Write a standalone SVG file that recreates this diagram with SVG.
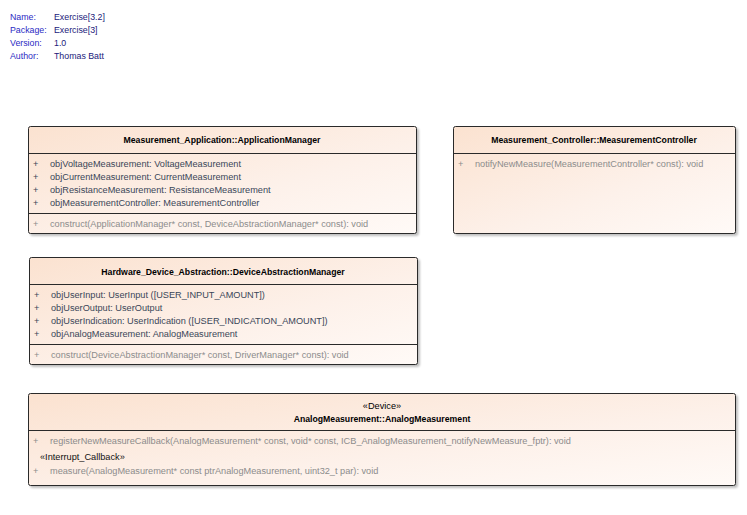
<svg xmlns="http://www.w3.org/2000/svg" width="747" height="515" viewBox="0 0 747 515">
<defs>
<linearGradient id="g" x1="0" y1="0" x2="1" y2="1">
<stop offset="0" stop-color="#fbe2d0"/>
<stop offset="0.6" stop-color="#fdf1ea"/>
<stop offset="1" stop-color="#fffaf7"/>
</linearGradient>
<filter id="sh" x="-5%" y="-5%" width="110%" height="120%">
<feDropShadow dx="2" dy="2" stdDeviation="1.2" flood-color="#000" flood-opacity="0.25"/>
</filter>
</defs>
<style>
text{font-family:"Liberation Sans",Arial,sans-serif;font-size:9.2px}
.meta,.val{font-size:8.8px}
.meta{fill:#2b2bc4}
.val{fill:#1a1a7a}
.box{fill:url(#g);stroke:#2a2a2a;stroke-width:1}
.ln{stroke:#2a2a2a;stroke-width:1}
.hd{font-weight:bold;fill:#000;text-anchor:middle;font-size:8.7px}
.st{fill:#000;text-anchor:middle}
.at{fill:#3a4658}
.op{fill:#8c8c8c}
.stl{fill:#111}
</style>
<g id="meta">
<text class="meta" x="10" y="20">Name:</text><text class="val" x="54" y="20">Exercise[3.2]</text>
<text class="meta" x="10" y="33">Package:</text><text class="val" x="54" y="33">Exercise[3]</text>
<text class="meta" x="10" y="46">Version:</text><text class="val" x="54" y="46">1.0</text>
<text class="meta" x="10" y="59">Author:</text><text class="val" x="54" y="59">Thomas Batt</text>
</g>
<g id="ApplicationManager">
<rect class="box" x="28.5" y="126.5" width="388" height="107" rx="2" filter="url(#sh)"/>
<line class="ln" x1="28.5" y1="153.5" x2="416.5" y2="153.5"/>
<line class="ln" x1="28.5" y1="213.5" x2="416.5" y2="213.5"/>
<text class="hd" x="222" y="143">Measurement_Application::ApplicationManager</text>
<text class="at" x="33" y="166.5">+</text><text class="at" x="50" y="166.5">objVoltageMeasurement: VoltageMeasurement</text>
<text class="at" x="33" y="179.5">+</text><text class="at" x="50" y="179.5">objCurrentMeasurement: CurrentMeasurement</text>
<text class="at" x="33" y="192.5">+</text><text class="at" x="50" y="192.5">objResistanceMeasurement: ResistanceMeasurement</text>
<text class="at" x="33" y="205.5">+</text><text class="at" x="50" y="205.5">objMeasurementController: MeasurementController</text>
<text class="op" x="33" y="227">+</text><text class="op" x="50" y="227">construct(ApplicationManager* const, DeviceAbstractionManager* const): void</text>
</g>
<g id="MeasurementController">
<rect class="box" x="453.5" y="126.5" width="282" height="107" rx="2" filter="url(#sh)"/>
<line class="ln" x1="453.5" y1="153.5" x2="735.5" y2="153.5"/>
<text class="hd" x="594" y="143">Measurement_Controller::MeasurementController</text>
<text class="op" x="458" y="166.5">+</text><text class="op" x="475" y="166.5">notifyNewMeasure(MeasurementController* const): void</text>
</g>
<g id="DeviceAbstractionManager">
<rect class="box" x="29.5" y="257.5" width="388" height="107" rx="2" filter="url(#sh)"/>
<line class="ln" x1="29.5" y1="284.5" x2="417.5" y2="284.5"/>
<line class="ln" x1="29.5" y1="344.5" x2="417.5" y2="344.5"/>
<text class="hd" x="223" y="275">Hardware_Device_Abstraction::DeviceAbstractionManager</text>
<text class="at" x="34" y="298">+</text><text class="at" x="51" y="298">objUserInput: UserInput ([USER_INPUT_AMOUNT])</text>
<text class="at" x="34" y="311">+</text><text class="at" x="51" y="311">objUserOutput: UserOutput</text>
<text class="at" x="34" y="324">+</text><text class="at" x="51" y="324">objUserIndication: UserIndication ([USER_INDICATION_AMOUNT])</text>
<text class="at" x="34" y="337">+</text><text class="at" x="51" y="337">objAnalogMeasurement: AnalogMeasurement</text>
<text class="op" x="34" y="358">+</text><text class="op" x="51" y="358">construct(DeviceAbstractionManager* const, DriverManager* const): void</text>
</g>
<g id="AnalogMeasurement">
<rect class="box" x="28.5" y="393.5" width="707" height="92" rx="2" filter="url(#sh)"/>
<line class="ln" x1="28.5" y1="430.5" x2="735.5" y2="430.5"/>
<text class="st" x="382" y="409">«Device»</text>
<text class="hd" x="382" y="422">AnalogMeasurement::AnalogMeasurement</text>
<text class="op" x="33" y="443.5">+</text><text class="op" x="50" y="443.5">registerNewMeasureCallback(AnalogMeasurement* const, void* const, ICB_AnalogMeasurement_notifyNewMeasure_fptr): void</text>
<text class="stl" x="40" y="460">«Interrupt_Callback»</text>
<text class="op" x="33" y="473.5">+</text><text class="op" x="50" y="473.5">measure(AnalogMeasurement* const ptrAnalogMeasurement, uint32_t par): void</text>
</g>
</svg>
